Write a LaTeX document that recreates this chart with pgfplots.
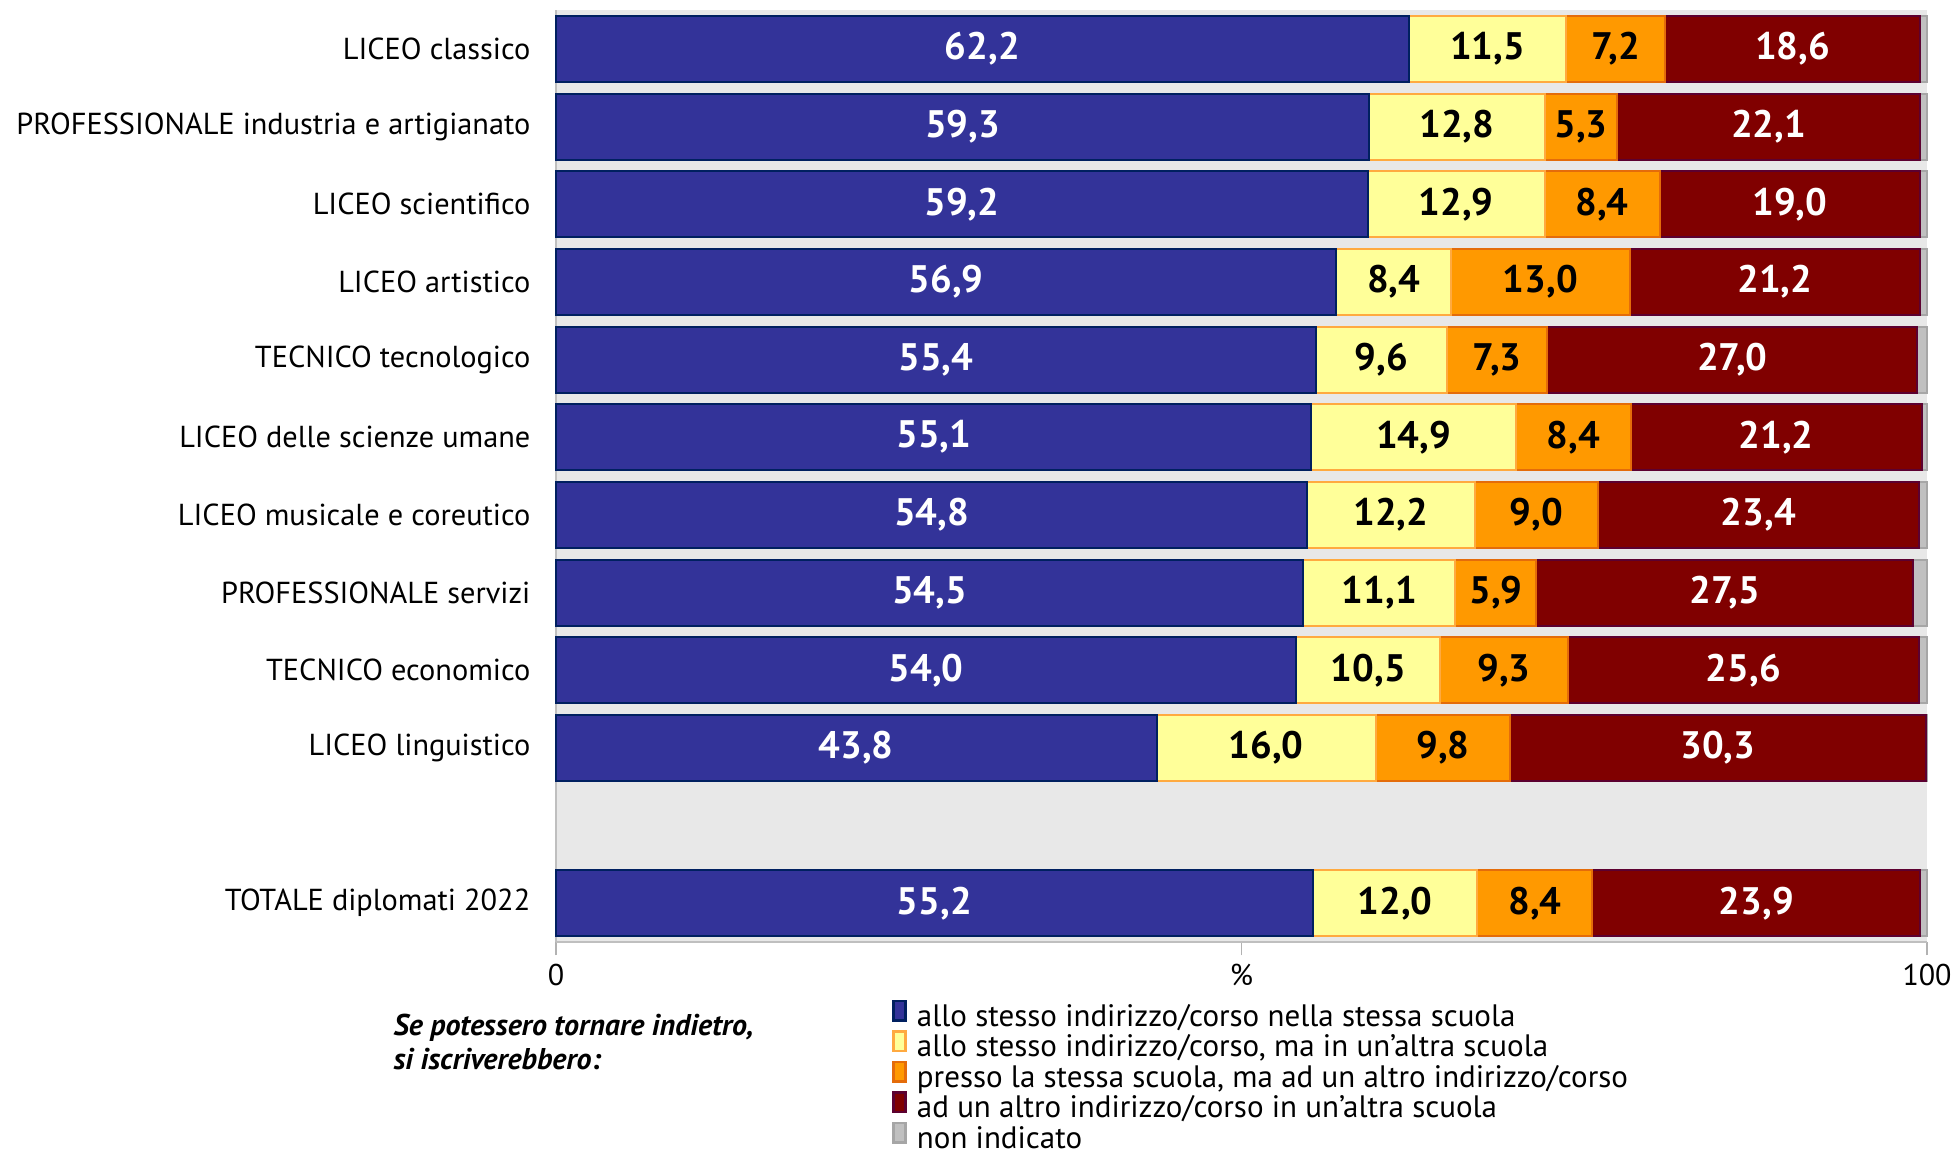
\documentclass[border=0pt]{standalone}
\usepackage{pgfplots}
\usepackage{pgfplotstable}
\pgfplotsset{compat=1.18}
\usepackage{fontspec}
\setmainfont{PT Sans}
\definecolor{cblue}{HTML}{333399}
\definecolor{cblueE}{HTML}{002060}
\definecolor{cyel}{HTML}{FFFF99}
\definecolor{cyelE}{HTML}{FFAA40}
\definecolor{cora}{HTML}{FF9900}
\definecolor{coraE}{HTML}{E46C0A}
\definecolor{cred}{HTML}{800000}
\definecolor{credE}{HTML}{5C0030}
\definecolor{cgry}{HTML}{C0C0C0}
\definecolor{cgryE}{HTML}{A6A6A6}
\definecolor{bgc}{HTML}{E8E8E8}
\pgfplotstableread{
pos a b c d e
0 62.2 11.5 7.2 18.6 0.5
1 59.3 12.8 5.3 22.1 0.5
2 59.2 12.9 8.4 19.0 0.5
3 56.9 8.4 13.0 21.2 0.5
4 55.4 9.6 7.3 27.0 0.7
5 55.1 14.9 8.4 21.2 0.4
6 54.8 12.2 9.0 23.4 0.6
7 54.5 11.1 5.9 27.5 1.0
8 54.0 10.5 9.3 25.6 0.6
9 43.8 16.0 9.8 30.3 0.1
11 55.2 12.0 8.4 23.9 0.5
}\datatable
\begin{document}
\begin{tikzpicture}
\path[use as bounding box] (0,0) rectangle (585.3pt,345.6pt);
\begin{axis}[
  at={(166.8pt,63pt)}, anchor=south west,
  scale only axis, width=411.3pt, height=279.6pt,
  clip=false,
  xbar stacked, bar width=19.8pt,
  xmin=0, xmax=100, ymin=-0.5, ymax=11.5, y dir=reverse,
  axis background/.style={fill=bgc},
  axis x line*=bottom, axis y line*=left,
  axis line style={draw=black!25, line width=0.5pt},
  xtick={0,50,100}, xticklabels={0,\%,100},
  xtick style={draw=black!30, line width=0.5pt},
  tick align=outside, major tick length=4pt,
  xticklabel style={font=\fontsize{9}{10}\selectfont, inner sep=0pt, anchor=center, yshift=-6pt},
  ytick={0,1,2,3,4,5,6,7,8,9,11},
  yticklabels={LICEO classico, PROFESSIONALE industria e artigianato, LICEO scientifico, LICEO artistico, TECNICO tecnologico, LICEO delle scienze umane, LICEO musicale e coreutico, PROFESSIONALE servizi, TECNICO economico, LICEO linguistico, TOTALE diplomati 2022},
  ytick style={draw=none},
  yticklabel style={font=\fontsize{9.1}{10}\selectfont, inner sep=0pt, anchor=east, xshift=-3.5pt},
  /pgf/number format/assume math mode=true,
  visualization depends on=rawx \as \rawx,
  nodes near coords={\pgfmathprintnumber[fixed,fixed zerofill,precision=1,use comma,assume math mode=true]{\rawx}},
  every node near coord/.style={font=\fontsize{11.5}{13}\selectfont\bfseries, anchor=center},
  legend cell align=left,
  legend style={at={(0.2375,-0.054)}, anchor=north west, draw=none, fill=none,
    font=\fontsize{9.3}{10}\selectfont, row sep=-0.6pt, column sep=3pt,
    nodes={inner sep=0pt, text height=6.5pt, text depth=1.8pt}},
  legend image code/.code={\draw[#1, line width=0.8pt] (0pt,-0.6pt) rectangle (3.6pt,5.2pt);},
]
\addplot[fill=cblue, draw=cblueE, line width=0.6pt, every node near coord/.append style={text=white}] table[x=a,y=pos] \datatable;
\addplot[fill=cyel, draw=cyelE, line width=0.6pt, every node near coord/.append style={text=black}] table[x=b,y=pos] \datatable;
\addplot[fill=cora, draw=coraE, line width=0.6pt, every node near coord/.append style={text=black}] table[x=c,y=pos] \datatable;
\addplot[fill=cred, draw=credE, line width=0.6pt, every node near coord/.append style={text=white}] table[x=d,y=pos] \datatable;
\addplot[fill=cgry, draw=cgryE, line width=0.6pt, nodes near coords=] table[x=e,y=pos] \datatable;
\legend{allo stesso indirizzo/corso nella stessa scuola, allo stesso indirizzo/corso{,} ma in un’altra scuola, presso la stessa scuola{,} ma ad un altro indirizzo/corso, ad un altro indirizzo/corso in un’altra scuola, non indicato}
\node[anchor=west, inner sep=0pt, font=\fontsize{9}{10}\selectfont\bfseries\itshape] at (rel axis cs:-0.119,-0.0923) {Se potessero tornare indietro,};
\node[anchor=west, inner sep=0pt, font=\fontsize{9}{10}\selectfont\bfseries\itshape] at (rel axis cs:-0.119,-0.1255) {si iscriverebbero:};
\end{axis}
\end{tikzpicture}
\end{document}
